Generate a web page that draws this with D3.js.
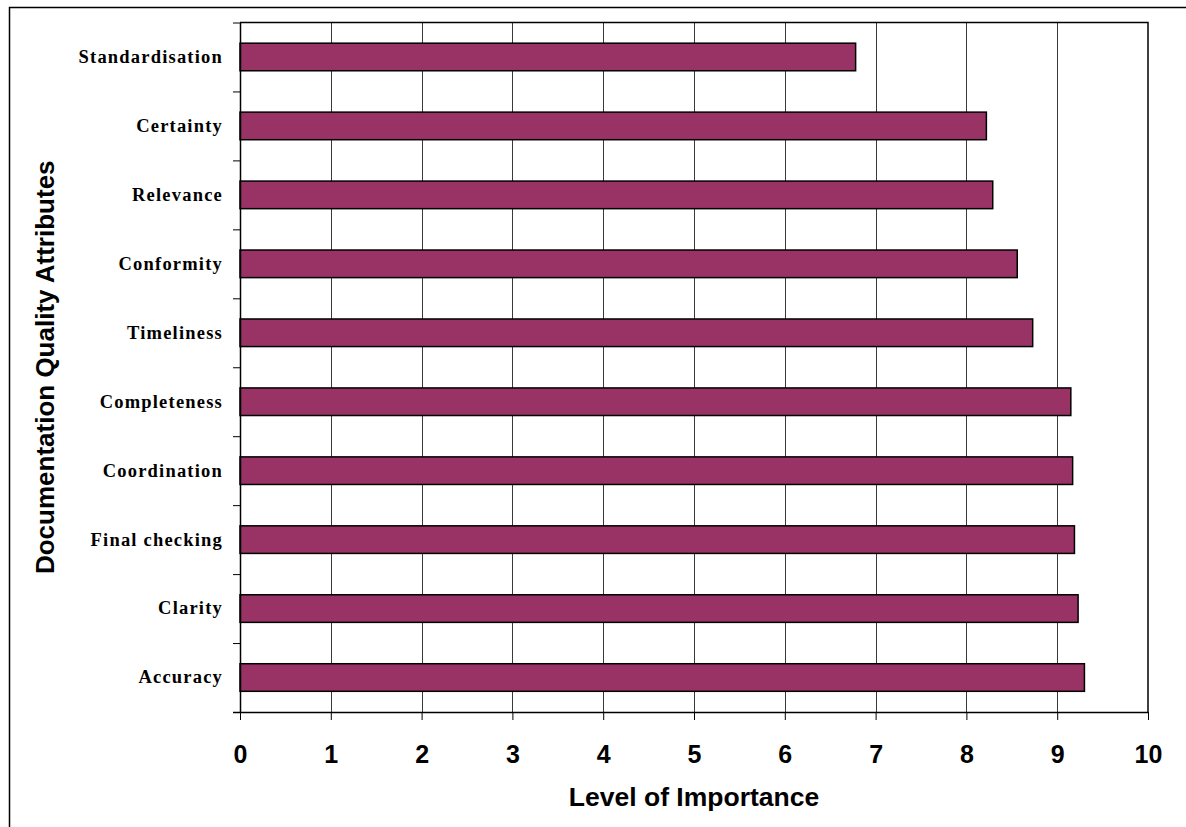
<!DOCTYPE html>
<html>
<head>
<meta charset="utf-8">
<script src="https://cdn.jsdelivr.net/npm/d3@7"></script>
<style>
  html, body { margin: 0; padding: 0; background: #fff; overflow: hidden; }
  svg { display: block; }
</style>
</head>
<body>
<svg id="chart" width="1186" height="827"></svg>
<script>
// Attributes, listed top to bottom
const categories = [
  "Standardisation", "Certainty", "Relevance", "Conformity", "Timeliness",
  "Completeness", "Coordination", "Final checking", "Clarity", "Accuracy"
];
// Mean importance rating for each attribute
const values = [6.78, 8.22, 8.29, 8.56, 8.73, 9.15, 9.17, 9.19, 9.23, 9.30];
// Horizontal axis ticks
const xTicks = [0, 1, 2, 3, 4, 5, 6, 7, 8, 9, 10];

const xTitle = "Level of Importance";
const yTitle = "Documentation Quality Attributes";

const svg = d3.select("#chart");
const W = 1186, H = 827;
const plot = { left: 240, right: 1148, top: 22.5, bottom: 712 };

// Outer frame (top and left edges only are visible)
svg.append("rect")
  .attr("x", 9.5).attr("y", 7.5)
  .attr("width", W + 20).attr("height", H + 20)
  .attr("fill", "#fff").attr("stroke", "#000").attr("stroke-width", 1.5);

const x = d3.scaleLinear().domain([0, 10]).range([plot.left, plot.right]);
const y = d3.scaleBand().domain(categories)
  .range([plot.top, plot.bottom])
  .paddingInner(0.6).paddingOuter(0.3);
// band boundaries for the category tick marks
const yEdge = d3.scaleLinear().domain([0, categories.length]).range([plot.top, plot.bottom]);

// vertical gridlines
svg.append("g")
  .selectAll("line")
  .data(xTicks.filter(t => t > 0 && t < 10))
  .join("line")
  .attr("x1", d => Math.round(x(d)) + 0.5).attr("x2", d => Math.round(x(d)) + 0.5)
  .attr("y1", plot.top).attr("y2", plot.bottom)
  .attr("stroke", "#3a3a3a").attr("stroke-width", 1);

// plot area top and right border
svg.append("path")
  .attr("d", `M${plot.left},${plot.top}H${plot.right}V${plot.bottom}`)
  .attr("fill", "none").attr("stroke", "#000").attr("stroke-width", 1.5);

// bars
svg.append("g")
  .selectAll("rect")
  .data(categories.map((c, i) => ({ c, v: values[i] })))
  .join("rect")
  .attr("x", x(0))
  .attr("y", d => y(d.c))
  .attr("width", d => x(d.v) - x(0))
  .attr("height", y.bandwidth())
  .attr("fill", "#993366")
  .attr("stroke", "#000")
  .attr("stroke-width", 1.5);

// x axis
const xAxis = svg.append("g")
  .attr("transform", `translate(0,${plot.bottom})`)
  .call(d3.axisBottom(x).tickValues(xTicks).tickFormat(d3.format("d"))
    .tickSize(8).tickSizeOuter(0).tickPadding(25));
xAxis.select(".domain").attr("stroke", "#000").attr("stroke-width", 1.5)
  .attr("d", `M${plot.left - 7},0.5H${plot.right}`);
xAxis.selectAll(".tick line").attr("stroke", "#000").attr("stroke-width", 1);
xAxis.selectAll("text")
  .attr("font-family", "Arial, 'Liberation Sans', sans-serif")
  .attr("font-weight", "bold").attr("font-size", 25).attr("fill", "#000");

// y axis line with ticks at category boundaries
const yAxis = svg.append("g")
  .attr("transform", `translate(${plot.left},0)`)
  .call(d3.axisLeft(yEdge).ticks(categories.length).tickFormat("")
    .tickSize(7).tickSizeOuter(0));
yAxis.select(".domain").attr("stroke", "#000").attr("stroke-width", 1.5);
yAxis.selectAll(".tick line").attr("stroke", "#000").attr("stroke-width", 1);

// category labels
const yLabels = svg.append("g")
  .attr("transform", `translate(${plot.left},0)`)
  .call(d3.axisLeft(y).tickSize(0).tickPadding(17));
yLabels.select(".domain").remove();
yLabels.selectAll("text")
  .attr("font-family", "'Times New Roman', 'Liberation Serif', serif")
  .attr("font-weight", "bold").attr("font-size", 18.5)
  .attr("letter-spacing", 1.2).attr("fill", "#000");

// axis titles
svg.append("text")
  .attr("x", (plot.left + plot.right) / 2).attr("y", 806)
  .attr("text-anchor", "middle")
  .attr("font-family", "Arial, 'Liberation Sans', sans-serif")
  .attr("font-weight", "bold").attr("font-size", 26.5)
  .text(xTitle);

svg.append("text")
  .attr("transform", `translate(54,${(plot.top + plot.bottom) / 2}) rotate(-90)`)
  .attr("text-anchor", "middle")
  .attr("font-family", "Arial, 'Liberation Sans', sans-serif")
  .attr("font-weight", "bold").attr("font-size", 26)
  .text(yTitle);
</script>
</body>
</html>
